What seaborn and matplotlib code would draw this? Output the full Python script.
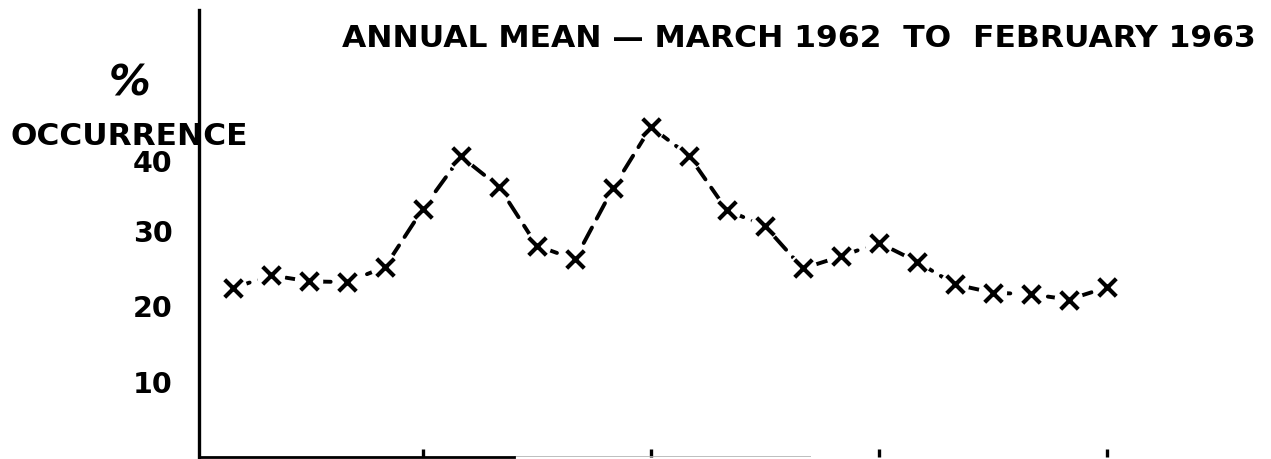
import matplotlib
matplotlib.use("Agg")
import matplotlib.pyplot as plt
import matplotlib.transforms as mtransforms
import seaborn as sns
import pandas as pd

# Hourly percentage occurrence, annual mean March 1962 - February 1963
hours = list(range(1, 25))
occurrence = [22.4, 24.1, 23.3, 23.2, 25.2, 32.9, 39.8, 35.8, 28.0, 26.2,
              35.6, 43.7, 39.9, 32.7, 30.6, 25.0, 26.6, 28.4, 25.9, 22.9,
              21.8, 21.6, 20.9, 22.5]
y_ticks = [10, 20, 30, 40]
y_tick_labels = ["10", "20", "30", "40"]
x_ticks = [6, 12, 18, 24]
title = "ANNUAL MEAN \u2014 MARCH 1962  TO  FEBRUARY 1963"

df = pd.DataFrame({"hour": hours, "occurrence": occurrence})

sns.set_theme(style="white")
plt.rcParams["font.family"] = ["DejaVu Sans"]
plt.rcParams["font.weight"] = "bold"
plt.rcParams["text.color"] = "black"
plt.rcParams["ytick.labelcolor"] = "black"

fig = plt.figure(figsize=(12.71, 4.59), dpi=100)
ax = fig.add_axes([0.1566, 0.0044, 0.8347, 0.9739])

# dashed connecting line
sns.lineplot(data=df, x="hour", y="occurrence", ax=ax, color="black",
             lw=2.8, linestyle=(0, (4.5, 2.6)), dash_capstyle="round",
             zorder=2)
# white discs open a small gap in the line around each point
sns.scatterplot(data=df, x="hour", y="occurrence", ax=ax, marker="o",
                s=420, color="white", edgecolor="none", zorder=3)
# cross markers
sns.scatterplot(data=df, x="hour", y="occurrence", ax=ax, marker="x",
                s=160, color="black", linewidth=3.0, zorder=4)

ax.set_xlim(0.105, 28.03)
ax.set_ylim(0.1, 59.15)
ax.set_xlabel("")
ax.set_ylabel("")

for side in ("top", "right"):
    ax.spines[side].set_visible(False)
ax.spines["left"].set_color("black")
ax.spines["left"].set_linewidth(2.4)
ax.spines["bottom"].set_color("black")
ax.spines["bottom"].set_linewidth(2.0)
ax.spines["bottom"].set_bounds(0.105, 8.4)
ax.hlines(0.1, 8.4, 16.2, color="0.7", lw=1.2, zorder=1)

ax.set_yticks(y_ticks)
ax.set_yticklabels(y_tick_labels)
ax.set_xticks(x_ticks)
ax.set_xticklabels([])
ax.tick_params(axis="y", direction="in", length=4.5, width=2.4,
               color="black", labelcolor="black", pad=19, labelsize=20.5)
ax.tick_params(axis="x", direction="in", length=6, width=2.4,
               color="black", bottom=True)
for lab in ax.get_yticklabels():
    lab.set_fontweight("bold")
    lab.set_color("black")
# the top label sits a little below its tick, clear of the axis caption
top_label = ax.get_yticklabels()[-1]
top_label.set_transform(top_label.get_transform() +
                        mtransforms.ScaledTranslation(0, -6 / 100,
                                                      fig.dpi_scale_trans))

fig.text(0.269, 0.8976, title, ha="left", va="baseline",
         fontsize=22.6, fontweight="bold", color="black")
fig.text(0.1023, 0.793, "%", ha="center", va="baseline",
         fontsize=30, fontweight="bold", style="italic", color="black")
fig.text(0.0079, 0.684, "OCCURRENCE", ha="left", va="baseline",
         fontsize=22.5, fontweight="bold", color="black")

fig.savefig("out.png", dpi=100, facecolor="white")
